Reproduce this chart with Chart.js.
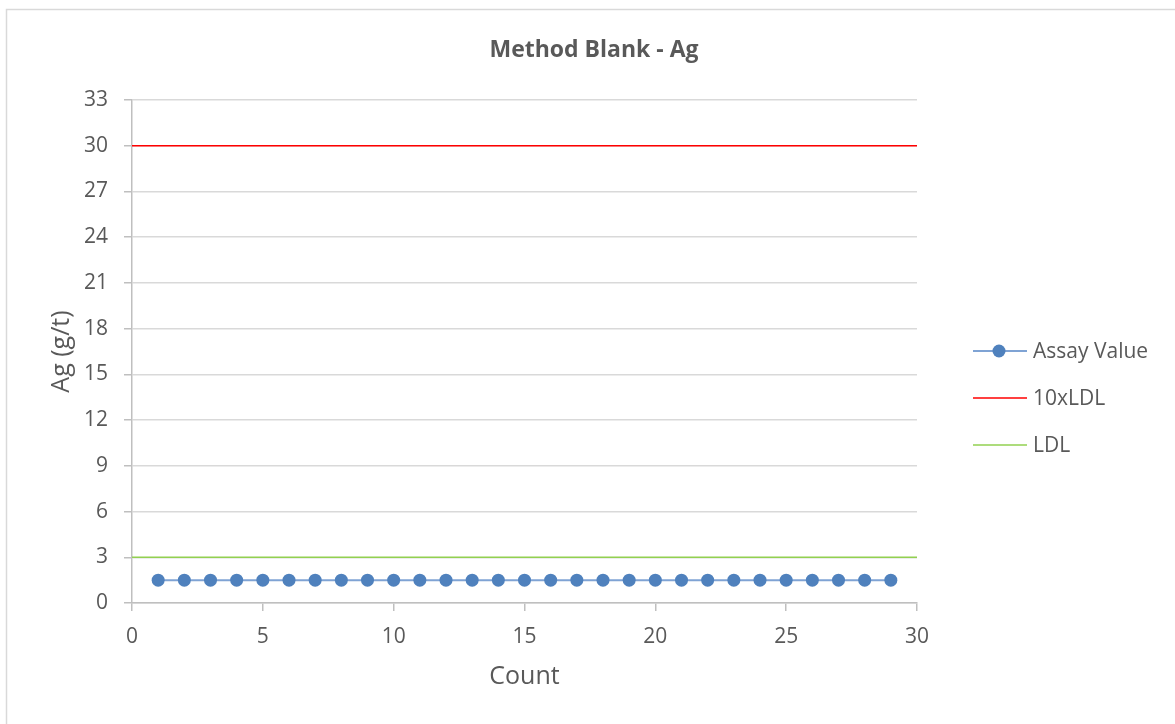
<!DOCTYPE html>
<html>
<head>
<meta charset="utf-8">
<script src="https://cdn.jsdelivr.net/npm/chart.js@4"></script>
<style>
  html, body { margin: 0; padding: 0; background: #ffffff; }
  #wrap { width: 1175px; height: 724px; position: relative; }
</style>
</head>
<body>
<div id="wrap"><canvas id="c" width="1175" height="724"></canvas></div>
<script>
// Blank sample results by run count
const counts = [1, 2, 3, 4, 5, 6, 7, 8, 9, 10, 11, 12, 13, 14, 15, 16, 17, 18, 19, 20, 21, 22, 23, 24, 25, 26, 27, 28, 29];
const assayValues = [1.5, 1.5, 1.5, 1.5, 1.5, 1.5, 1.5, 1.5, 1.5, 1.5, 1.5, 1.5, 1.5, 1.5, 1.5, 1.5, 1.5, 1.5, 1.5, 1.5, 1.5, 1.5, 1.5, 1.5, 1.5, 1.5, 1.5, 1.5, 1.5];

// Detection limit reference lines
const limitX = [0, 30];
const tenLdl = [30, 30];
const ldl = [3, 3];

const seriesNames = ['Assay Value', '10xLDL', 'LDL'];
const titleText = 'Method Blank - Ag';
const xTitle = 'Count';
const yTitle = 'Ag (g/t)';

const FONT = "'Open Sans', 'Liberation Sans', sans-serif";
const TEXT = '#595959';

const toPoints = (xs, ys) => xs.map((x, i) => ({ x: x, y: ys[i] }));

// Frame, title and legend drawn around the plot
const decor = {
  id: 'decor',
  beforeDraw(chart) {
    const ctx = chart.ctx;
    ctx.save();
    ctx.fillStyle = '#ffffff';
    ctx.fillRect(0, 0, chart.width, chart.height);
    ctx.strokeStyle = '#d9d9d9';
    ctx.lineWidth = 1.5;
    ctx.strokeRect(6.5, 9.5, chart.width, chart.height);
    ctx.restore();
  },
  afterDraw(chart) {
    const ctx = chart.ctx;
    ctx.save();
    ctx.fillStyle = TEXT;
    ctx.font = "bold 23px " + FONT;
    ctx.textAlign = 'center';
    ctx.textBaseline = 'middle';
    ctx.fillText(titleText, 594, 50);

    // legend
    const ys = [351, 398, 445];
    ctx.font = "21px " + FONT;
    ctx.textAlign = 'left';
    chart.data.datasets.forEach((ds, i) => {
      const y = ys[i];
      ctx.strokeStyle = ds.borderColor;
      ctx.lineWidth = ds.borderWidth;
      ctx.beginPath();
      ctx.moveTo(973, y);
      ctx.lineTo(1027, y);
      ctx.stroke();
      if (ds.pointRadius > 0) {
        ctx.fillStyle = ds.pointBackgroundColor;
        ctx.beginPath();
        ctx.arc(999, y, ds.pointRadius, 0, Math.PI * 2);
        ctx.fill();
      }
      ctx.fillStyle = TEXT;
      ctx.fillText(ds.label, 1033, y + 1);
    });
    ctx.restore();
  }
};

new Chart(document.getElementById('c'), {
  type: 'scatter',
  data: {
    datasets: [
      {
        label: seriesNames[0],
        data: toPoints(counts, assayValues),
        showLine: true,
        borderColor: '#7fa3d4',
        borderWidth: 2,
        pointRadius: 6.5,
        pointBackgroundColor: '#4f81bd',
        pointBorderColor: '#4f81bd',
        pointBorderWidth: 0,
        order: 0
      },
      {
        label: seriesNames[1],
        data: toPoints(limitX, tenLdl),
        showLine: true,
        borderColor: '#ff0000',
        borderWidth: 1.5,
        pointRadius: 0,
        order: 1
      },
      {
        label: seriesNames[2],
        data: toPoints(limitX, ldl),
        showLine: true,
        borderColor: '#92d050',
        borderWidth: 1.5,
        pointRadius: 0,
        order: 2
      }
    ]
  },
  options: {
    responsive: false,
    animation: false,
    devicePixelRatio: 1,
    layout: { padding: { top: 100, right: 258, left: 0, bottom: 0 } },
    plugins: {
      legend: { display: false },
      title: { display: false },
      tooltip: { enabled: false }
    },
    scales: {
      x: {
        type: 'linear',
        min: 0,
        max: 30,
        afterFit(scale) { scale.height = 121; },
        ticks: {
          stepSize: 5,
          color: TEXT,
          font: { family: FONT, size: 21 },
          padding: 13,
          maxRotation: 0
        },
        grid: {
          drawOnChartArea: false,
          drawTicks: true,
          tickLength: 8,
          tickColor: '#bfbfbf',
          lineWidth: 1.5
        },
        border: { color: '#bfbfbf', width: 1.5 },
        title: {
          display: true,
          text: xTitle,
          color: TEXT,
          font: { family: FONT, size: 25 },
          padding: { top: 0, bottom: 32 }
        }
      },
      y: {
        type: 'linear',
        min: 0,
        max: 33,
        afterFit(scale) { scale.width = 132; },
        ticks: {
          stepSize: 3,
          color: TEXT,
          font: { family: FONT, size: 21 },
          padding: 16
        },
        grid: {
          color: '#d9d9d9',
          lineWidth: 1.5,
          drawTicks: true,
          tickLength: 8,
          tickColor: '#bfbfbf'
        },
        border: { color: '#bfbfbf', width: 1.5 },
        title: {
          display: true,
          text: yTitle,
          color: TEXT,
          font: { family: FONT, size: 25 },
          padding: { top: 47, bottom: 0 }
        }
      }
    }
  },
  plugins: [decor]
});
</script>
</body>
</html>
